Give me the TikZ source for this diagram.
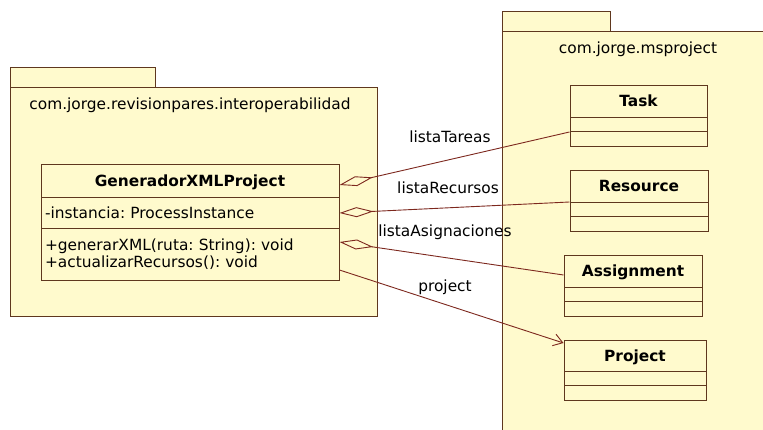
\documentclass[tikz,border=0pt]{standalone}
\usepackage{fontspec}
\setmainfont{DejaVu Sans}
\usepackage{xcolor}
\usepackage{tikz}
\usetikzlibrary{shapes,arrows.meta,positioning,calc}

\definecolor{umlfill}{RGB}{255,250,205}
\definecolor{umlline}{RGB}{95,55,30}
\definecolor{linkcol}{RGB}{125,40,30}
\frenchspacing

\begin{document}
\begin{tikzpicture}[x=1pt, y=-1pt,
  every node/.style={font=\fontsize{15.4}{17}\selectfont},
  pkg/.style={draw=umlline, fill=umlfill, line width=1pt, rectangle, inner sep=0pt},
  umlclass/.style={draw=umlline, fill=umlfill, line width=1pt, rectangle split, rectangle split parts=3,
    inner xsep=4pt, inner ysep=0pt, text width=#1, align=left, anchor=north},
  link/.style={draw=linkcol, line width=0.9pt},
  aggr/.style={link, {Diamond[open, length=34pt, width=10pt]}-},
  navig/.style={link, -{Straight Barb[length=9pt, width=12pt]}},
  role/.style={inner sep=1pt}
]
\path[use as bounding box] (0,0) rectangle (763,430);
\clip (0,0) rectangle (763,430);

% packages
\node[pkg, minimum width=145pt, minimum height=20pt] (revtab) at (82.5,78) {};
\node[pkg, minimum width=367pt, minimum height=229pt] (rev) at (193.5,202.5) {};
\node (revname) at (190,105) {com.jorge.revisionpares.interoperabilidad};
\node[pkg, minimum width=108pt, minimum height=20pt] (mstab) at (556,22) {};
\node[pkg, minimum width=290pt, minimum height=420pt] (ms) at (647,242) {};
\node (msname) at (638,49) {com.jorge.msproject};

% classes
\node[umlclass=290pt] (gen) at (190,164) {\makebox[\linewidth]{\bfseries GeneradorXMLProject\rule[-10pt]{0pt}{32pt}}
  \nodepart{two}\rule[-9.5pt]{0pt}{30pt}-instancia: ProcessInstance
  \nodepart{three}\rule{0pt}{22pt}+generarXML(ruta: String): void\\+actualizarRecursos(): void\rule[-12pt]{0pt}{12pt}};
\node[umlclass=129pt] (task) at (638.5,85) {\makebox[\linewidth]{\bfseries Task\rule[-10pt]{0pt}{31pt}}
  \nodepart{two}\rule{0pt}{13pt}\nodepart{three}\rule{0pt}{14pt}};
\node[umlclass=130pt] (res) at (639,170) {\makebox[\linewidth]{\bfseries Resource\rule[-10pt]{0pt}{31pt}}
  \nodepart{two}\rule{0pt}{13pt}\nodepart{three}\rule{0pt}{14pt}};
\node[umlclass=130pt] (asig) at (633,255) {\makebox[\linewidth]{\bfseries Assignment\rule[-10pt]{0pt}{31pt}}
  \nodepart{two}\rule{0pt}{13pt}\nodepart{three}\rule{0pt}{14pt}};
\node[umlclass=134pt] (proj) at (635,340) {\makebox[\linewidth]{\bfseries Project\rule[-10pt]{0pt}{30pt}}
  \nodepart{two}\rule{0pt}{13pt}\nodepart{three}\rule{0pt}{14pt}};

% associations
\draw[aggr] ([yshift=-21pt]gen.north east) -- ([yshift=-47pt]task.north west);
\draw[aggr] ([yshift=-49pt]gen.north east) -- ([yshift=-32pt]res.north west);
\draw[aggr] ([yshift=-78pt]gen.north east) -- ([yshift=-20pt]asig.north west);
\draw[navig] ([yshift=-106pt]gen.north east) -- ([yshift=-3pt]proj.north west);

\node[role] (tareas) at (450,137) {listaTareas};
\node[role] (recursos) at (448,188) {listaRecursos};
\node[role] (asignaciones) at (445,232) {listaAsignaciones};
\node[role] (project) at (445,287) {project};
\end{tikzpicture}
\end{document}
